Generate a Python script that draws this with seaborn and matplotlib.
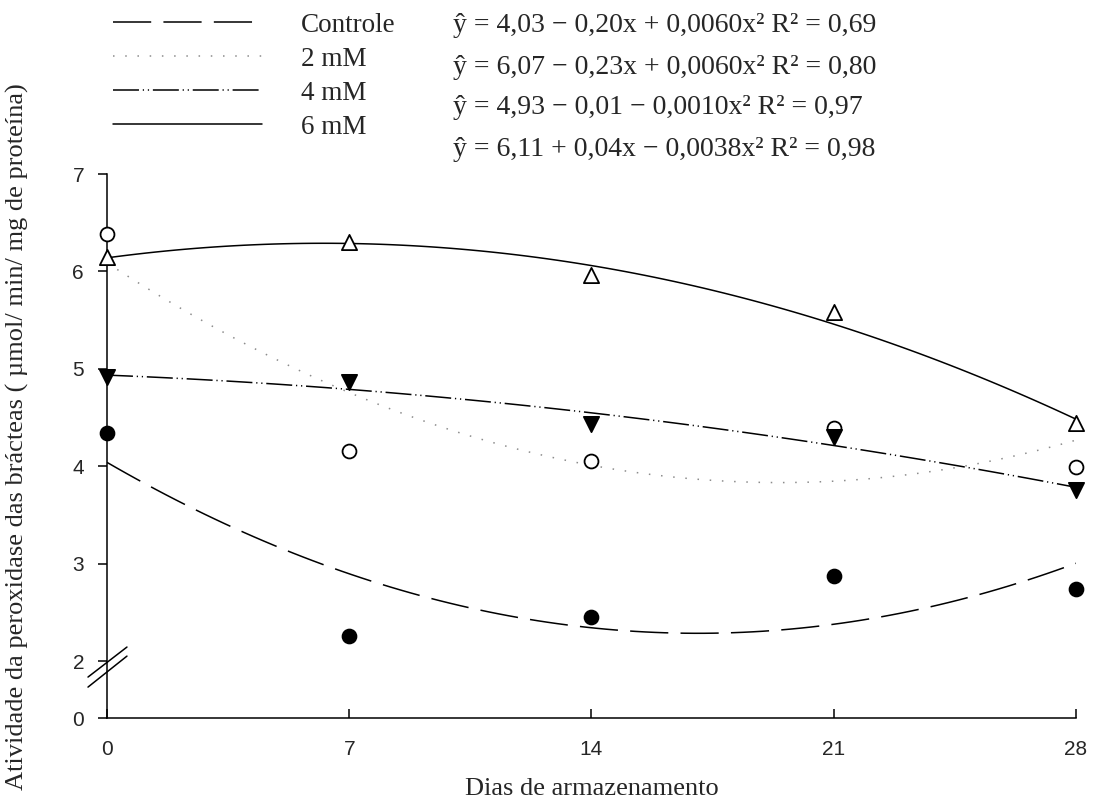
import numpy as np
import pandas as pd
import seaborn as sns
import matplotlib.pyplot as plt
import matplotlib.transforms as mtransforms

# dias de armazenamento
dias = [0, 7, 14, 21, 28]

# atividade da peroxidase
controle = [4.34, 2.26, 2.45, 2.87, 2.74]
mM2 = [6.38, 4.16, 4.05, 4.39, 3.99]
mM4 = [4.92, 4.86, 4.43, 4.30, 3.76]
mM6 = [6.15, 6.30, 5.96, 5.58, 4.44]

labels = ['Controle', '2 mM', '4 mM', '6 mM']
equacoes = ['ŷ = 4,03 − 0,20x + 0,0060x² R² = 0,69',
            'ŷ = 6,07 − 0,23x + 0,0060x² R² = 0,80',
            'ŷ = 4,93 − 0,01 − 0,0010x² R² = 0,97',
            'ŷ = 6,11 + 0,04x − 0,0038x² R² = 0,98']

xticks = [0, 7, 14, 21, 28]
ytick_labels = ['0', '2', '3', '4', '5', '6', '7']
Y_BOTTOM = 1.415   # eixo quebrado: o "0" fica aqui

sns.set_style('white')
plt.rcParams['font.family'] = ['Liberation Serif', 'DejaVu Serif']

df = pd.DataFrame({'dias': dias * 4,
                   'valor': controle + mM2 + mM4 + mM6,
                   'trat': sum([[l] * len(dias) for l in labels], [])})

fig = plt.figure(figsize=(10.94, 8.05), dpi=100)
ax = fig.add_axes([0.0978, 0.108, 0.8857, 0.6758])

estilos = {
    'Controle': dict(ls=(0, (25, 8)), color='black', marker='o', fc='black', s=100),
    '2 mM': dict(ls=(0, (1, 7)), color='#8c8c8c', marker='o', fc='white', s=100),
    '4 mM': dict(ls=(0, (17, 2.5, 0.8, 2.5, 0.8, 2.5)), color='black', marker='v', fc='black', s=120),
    '6 mM': dict(ls='-', color='black', marker='^', fc='white', s=120),
}

handles = []
for lab in labels:
    st = estilos[lab]
    sub = df[df['trat'] == lab]
    sns.regplot(data=sub, x='dias', y='valor', order=2, ci=None, ax=ax,
                scatter=False, line_kws=dict(color=st['color'], lw=1.1, ls=st['ls']))
    handles.append(ax.lines[-1])
for lab in labels:
    st = estilos[lab]
    sub = df[df['trat'] == lab]
    sns.scatterplot(data=sub, x='dias', y='valor', ax=ax, marker=st['marker'],
                    s=st['s'], facecolor=st['fc'], edgecolor='black', linewidth=1.3,
                    clip_on=False, zorder=5, legend=False)

ax.set_xlim(0, 28)
ax.set_ylim(Y_BOTTOM, 7)
ax.set_xticks(xticks)
ax.set_yticks([Y_BOTTOM, 2, 3, 4, 5, 6, 7])
ax.set_yticklabels(ytick_labels)
for s in ['top', 'right']:
    ax.spines[s].set_visible(False)
for s in ['left', 'bottom']:
    ax.spines[s].set_linewidth(1.1)
    ax.spines[s].set_color('black')
ax.tick_params(axis='y', left=True, direction='out', length=6.5, width=1.1, pad=10,
               labelsize=15, color='black')
ax.tick_params(axis='x', bottom=True, direction='in', length=6.5, width=1.1, pad=16,
               labelsize=15, color='black')
for t in ax.get_xticklabels() + ax.get_yticklabels():
    t.set_family(['Liberation Sans', 'DejaVu Sans'])

# marcas de quebra do eixo y
tr = mtransforms.blended_transform_factory(ax.transAxes, ax.transData)
ax.plot([-0.0196, 0.0206], [1.836, 2.144], color='black', lw=1.1, transform=tr, clip_on=False)
ax.plot([-0.0196, 0.0206], [1.733, 2.051], color='black', lw=1.1, transform=tr, clip_on=False)

ax.set_xlabel('Dias de armazenamento', fontsize=19)
ax.set_ylabel('Atividade da peroxidase das brácteas ( µmol/ min/ mg de proteína)', fontsize=19)
ax.xaxis.set_label_coords(0.5, -0.1305)
ax.xaxis.label.set_va('center')
ax.yaxis.set_label_coords(-0.0929, 0.5165)
ax.yaxis.label.set_va('center')

fig.legend(handles, labels, loc='upper left', bbox_to_anchor=(0.103, 0.984),
           frameon=False, fontsize=19.5, handlelength=5.5, handletextpad=1.45,
           labelspacing=0.33, borderaxespad=0, borderpad=0)

for yc, eq in zip([25, 67, 108, 150], equacoes):
    fig.text(453 / 1094, 1 - yc / 805, eq, fontsize=20, ha='left', va='center')

fig.savefig('out.png', dpi=100)
